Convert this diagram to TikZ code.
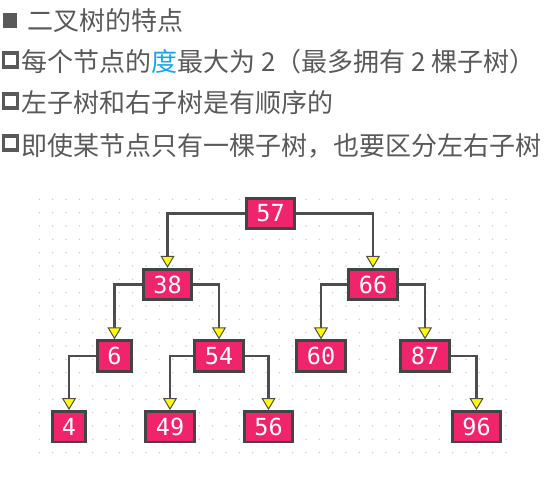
\documentclass[tikz,border=0pt]{standalone}
\usepackage{fontspec}
\usetikzlibrary{arrows.meta}
\newfontfamily\cjk{Noto Sans CJK SC}
\newfontfamily\mono{DejaVu Sans Mono}
\definecolor{textc}{HTML}{595959}
\definecolor{degc}{HTML}{1AA3E8}
\definecolor{boxfill}{RGB}{240,36,106}
\definecolor{boxline}{HTML}{444444}
\definecolor{linec}{HTML}{4D4D4D}
\definecolor{arrowy}{RGB}{255,255,0}
\definecolor{dotc}{HTML}{CFCFCF}
\tikzset{
  tnode/.style={draw=boxline, line width=2.8pt, fill=boxfill, text=white,
    font=\mono\fontsize{23.5}{23.5}\selectfont, minimum height=30.5pt, inner sep=0pt},
  wide/.style={tnode, minimum width=48.5pt},
  narrow/.style={tnode, minimum width=33.5pt},
  link/.style={draw=linec, line width=2.4pt,
    -{Triangle[width=14pt,length=12pt,fill=arrowy,line width=1pt]}},
  line/.style={anchor=base west, text=textc, inner sep=0pt,
    font=\cjk\fontsize{26}{30}\selectfont},
  fullbullet/.style={fill=textc, minimum size=14.5pt, inner sep=0pt},
  openbullet/.style={draw=textc, line width=3.6pt, minimum size=14pt, inner sep=0pt}
}
\begin{document}
\begin{tikzpicture}[x=1pt,y=-1pt]
\useasboundingbox (0,0) rectangle (559,485);

% heading and bullet list
\node[fullbullet] (b1) at (10,20.5) {};
\node[line] (l1) at (27,30) {二叉树的特点};
\node[openbullet] (b2) at (10.5,60) {};
\node[line] (l2) at (21,71.5) {每个节点的{\color{degc}度}最大为 2（最多拥有 2 棵子树）};
\node[openbullet] (b3) at (10.5,101) {};
\node[line] (l3) at (21,112.5) {左子树和右子树是有顺序的};
\node[openbullet] (b4) at (10.5,143) {};
\node[line] (l4) at (21,155) {即使某节点只有一棵子树，也要区分左右子树};

% dotted canvas
\foreach \i in {-1,...,34}
  \foreach \j in {0,...,19}
    \fill[dotc] ({52.7+13.33*\i},{199.3+13.33*\j}) circle[radius=0.85pt];

% tree nodes
\node[wide]   (n57) at (270.5,213.5) {57};
\node[wide]   (n38) at (167.5,284.5) {38};
\node[wide]   (n66) at (373,284.5) {66};
\node[narrow] (n6)  at (114.5,356) {6};
\node[wide]   (n54) at (219,356) {54};
\node[wide]   (n60) at (321,356) {60};
\node[wide]   (n87) at (425,356) {87};
\node[narrow] (n4)  at (69,426.7) {4};
\node[wide]   (n49) at (170,426.7) {49};
\node[wide]   (n56) at (268.5,426.7) {56};
\node[wide]   (n96) at (476.5,426.7) {96};

% parent-to-child links
\draw[link] (n57.west) -| (n38.north);
\draw[link] (n57.east) -| (n66.north);
\draw[link] (n38.west) -| (n6.north);
\draw[link] (n38.east) -| (n54.north);
\draw[link] (n66.west) -| (n60.north);
\draw[link] (n66.east) -| (n87.north);
\draw[link] (n6.west)  -| (n4.north);
\draw[link] (n54.west) -| (n49.north);
\draw[link] (n54.east) -| (n56.north);
\draw[link] (n87.east) -| (n96.north);
\end{tikzpicture}
\end{document}
